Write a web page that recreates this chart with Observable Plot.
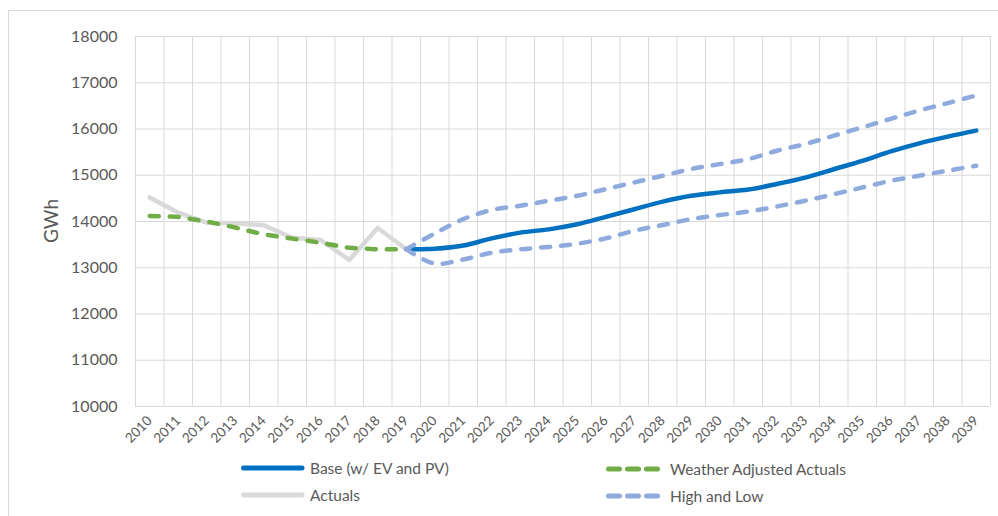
<!DOCTYPE html>
<html>
<head>
<meta charset="utf-8">
<script src="https://cdn.jsdelivr.net/npm/d3@7"></script>
<script src="https://cdn.jsdelivr.net/npm/@observablehq/plot@0.6"></script>
<style>
  html, body { margin: 0; padding: 0; background: #fff; overflow: hidden; }
  #wrap { position: relative; width: 998px; height: 516px; font-family: Lato, "Open Sans", sans-serif; color: #595959; overflow: hidden; }
  #border { position: absolute; left: 8px; top: 10px; width: 1010px; height: 520px; border: 1px solid #d9d9d9; box-sizing: border-box; }
  #chart { position: absolute; left: 0; top: 0; }
  #ylabel { position: absolute; left: 50px; top: 221px; transform: translate(-50%, -50%) rotate(-90deg); font-size: 19px; white-space: nowrap; }
  .leg { position: absolute; display: flex; align-items: center; font-size: 15.5px; white-space: nowrap; }
  .leg svg { margin-right: 5px; }
</style>
</head>
<body>
<div id="wrap">
  <div id="border"></div>
  <div id="chart"></div>
  <div id="ylabel">GWh</div>
  <div id="legend"></div>
</div>
<script>
const years = [2010,2011,2012,2013,2014,2015,2016,2017,2018,2019,2020,2021,2022,2023,2024,2025,2026,2027,2028,2029,2030,2031,2032,2033,2034,2035,2036,2037,2038,2039];
const histYears = [2010,2011,2012,2013,2014,2015,2016,2017,2018,2019];
const fcstYears = [2019,2020,2021,2022,2023,2024,2025,2026,2027,2028,2029,2030,2031,2032,2033,2034,2035,2036,2037,2038,2039];

const actuals = [14520, 14190, 13975, 13960, 13920, 13650, 13600, 13170, 13860, 13400];
const weatherAdjusted = [14120, 14100, 14000, 13870, 13720, 13630, 13540, 13430, 13400, 13400];
const base = [13400, 13410, 13480, 13635, 13760, 13830, 13940, 14100, 14265, 14430, 14555, 14630, 14690, 14810, 14950, 15130, 15310, 15515, 15690, 15835, 15965];
const high = [13400, 13740, 14050, 14250, 14340, 14450, 14555, 14700, 14845, 14990, 15135, 15240, 15350, 15530, 15675, 15855, 16035, 16220, 16400, 16560, 16725];
const low = [13400, 13090, 13180, 13325, 13400, 13450, 13520, 13635, 13800, 13925, 14050, 14140, 14215, 14325, 14450, 14590, 14735, 14880, 14990, 15100, 15205];
const yTicks = [10000, 11000, 12000, 13000, 14000, 15000, 16000, 17000, 18000];

const seriesNames = ["Base (w/ EV and PV)", "Weather Adjusted Actuals", "Actuals", "High and Low"];
const colors = {base: "#0070C0", weather: "#70AD47", actuals: "#D9D9D9", highlow: "#8FAADC"};

const toRows = (xs, vs) => xs.map((x, i) => ({x, y: vs[i]}));
const actualRows = toRows(histYears, actuals);
const weatherRows = toRows(histYears, weatherAdjusted);
const baseRows = toRows(fcstYears, base);
const highRows = toRows(fcstYears, high);
const lowRows = toRows(fcstYears, low);
const boundaries = [...years.map(y => y - 0.5), years[years.length - 1] + 0.5];

const dash = "9,11";
const plot = Plot.plot({
  width: 998,
  height: 456,
  marginLeft: 135,
  marginRight: 8,
  marginTop: 36,
  marginBottom: 50,
  style: {fontFamily: "Lato, 'Open Sans', sans-serif", color: "#595959", background: "transparent"},
  x: {type: "linear", domain: [2009.5, 2039.5]},
  y: {domain: [10000, 18000]},
  marks: [
    Plot.ruleY(yTicks, {stroke: "#d9d9d9", strokeWidth: 1}),
    Plot.ruleX(boundaries, {stroke: "#d9d9d9", strokeWidth: 1}),
    Plot.axisY({ticks: yTicks, tickSize: 0, tickPadding: 18, fontSize: 16, tickFormat: d => String(d), label: null}),
    Plot.axisX({ticks: years, tickSize: 0, tickPadding: 12, tickRotate: -45, fontSize: 13.5, tickFormat: d => String(d), label: null}),
    Plot.line(actualRows, {x: "x", y: "y", stroke: colors.actuals, strokeWidth: 4.5, strokeLinejoin: "round", strokeLinecap: "round"}),
    Plot.line(weatherRows, {x: "x", y: "y", stroke: colors.weather, strokeWidth: 4.5, strokeDasharray: dash, strokeLinecap: "round", strokeLinejoin: "round"}),
    Plot.line(baseRows, {x: "x", y: "y", stroke: colors.base, strokeWidth: 4.5, curve: "catmull-rom", strokeLinecap: "round"}),
    Plot.line(highRows, {x: "x", y: "y", stroke: colors.highlow, strokeWidth: 4.5, curve: "catmull-rom", strokeDasharray: dash, strokeLinecap: "round"}),
    Plot.line(lowRows, {x: "x", y: "y", stroke: colors.highlow, strokeWidth: 4.5, curve: "catmull-rom", strokeDasharray: dash, strokeLinecap: "round"})
  ]
});
document.getElementById("chart").appendChild(plot);

// Legend
const legendItems = [
  {name: seriesNames[0], color: colors.base, dashed: false, left: 241, top: 468},
  {name: seriesNames[1], color: colors.weather, dashed: true, left: 606, top: 469},
  {name: seriesNames[2], color: colors.actuals, dashed: false, left: 241, top: 495},
  {name: seriesNames[3], color: colors.highlow, dashed: true, left: 606, top: 496}
];
const legend = document.getElementById("legend");
for (const it of legendItems) {
  const d = document.createElement("div");
  d.className = "leg";
  d.style.left = it.left + "px";
  d.style.top = (it.top - 10) + "px";
  d.style.height = "20px";
  const w = it.dashed ? 55 : 60;
  d.innerHTML = `<svg width="${w + 4}" height="10"><line x1="2.5" y1="5" x2="${w + 1}" y2="5" stroke="${it.color}" stroke-width="5" stroke-linecap="round" ${it.dashed ? 'stroke-dasharray="11,8"' : ''}/></svg><span>${it.name}</span>`;
  legend.appendChild(d);
}
</script>
</body>
</html>
